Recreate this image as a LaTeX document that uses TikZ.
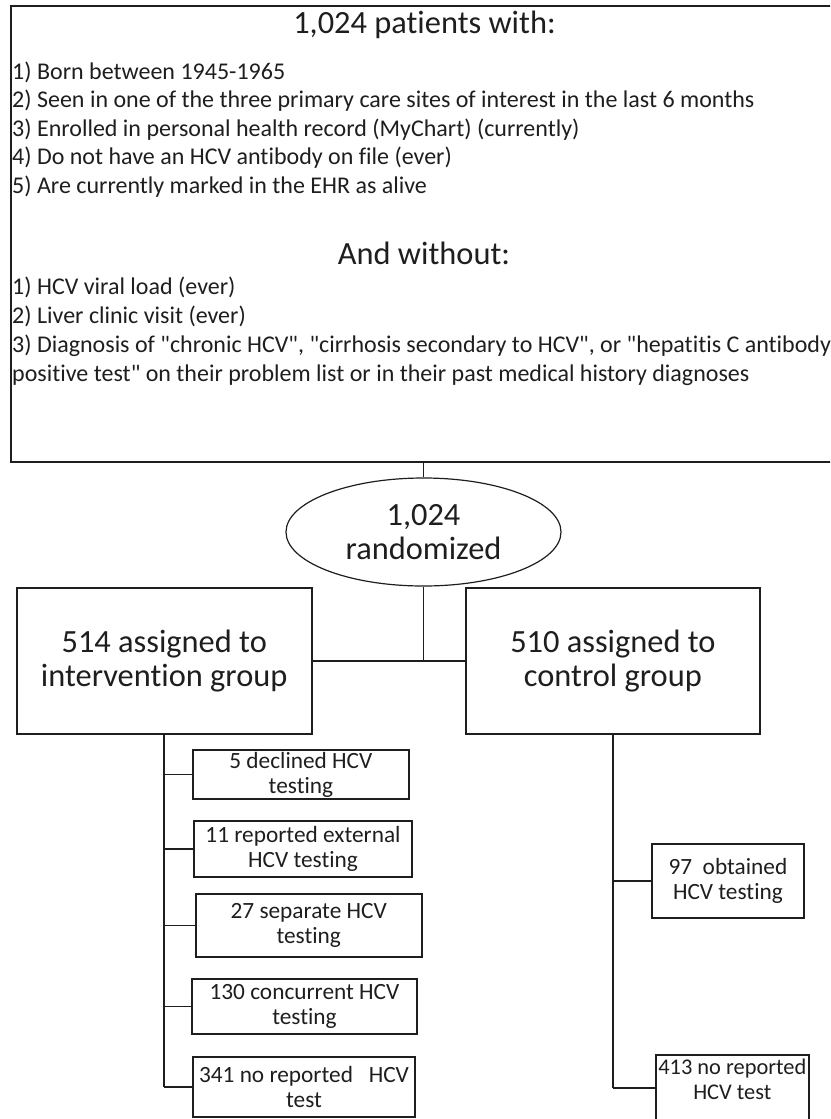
\documentclass[tikz,border=0pt]{standalone}
\usepackage{fontspec}
\setmainfont{Carlito}[Ligatures={TeXOff,CommonOff}]
\usetikzlibrary{shapes.geometric}
\definecolor{ink}{HTML}{1E1E1E}
\tikzset{
  box/.style={draw=ink, line width=1.7pt, rectangle, inner sep=0pt, align=center},
  bigtxt/.style={font=\fontsize{32.4}{34}\selectfont},
  smalltxt/.style={font=\fontsize{23.3}{25}\selectfont},
  listline/.style={anchor=west, inner sep=0pt, font=\fontsize{24}{25}\selectfont, text=ink},
  conn/.style={draw=ink, line width=1.7pt},
}
\begin{document}
\begin{tikzpicture}[x=1pt, y=-1pt]
\useasboundingbox (0,0) rectangle (830,1119);
\clip (0,0) rectangle (830,1119);
% top box
\node[box, anchor=north west, minimum width=832pt, minimum height=456pt] (top) at (10,5) {};
\node[inner sep=0pt, bigtxt, text=ink] (title) at (424.5,25) {1,024 patients with:};
\node[listline] (w1) at (12,72.7) {1) Born between 1945-1965};
\node[listline] (w2) at (12,100.9) {2) Seen in one of the three primary care sites of interest in the last 6 months};
\node[listline] (w3) at (12,129.3) {3) Enrolled in personal health record (MyChart) (currently)};
\node[listline] (w4) at (12,158) {4) Do not have an HCV antibody on file (ever)};
\node[listline] (w5) at (12,186.7) {5) Are currently marked in the EHR as alive};
\node[inner sep=0pt, bigtxt, text=ink] (without) at (424,253) {And without:};
\node[listline] (x1) at (12,287) {1) HCV viral load (ever)};
\node[listline] (x2) at (12,316) {2) Liver clinic visit (ever)};
\node[listline] (x3) at (12,345.7) {3) Diagnosis of "chronic HCV", "cirrhosis secondary to HCV", or "hepatitis C antibody};
\node[listline] (x4) at (12,375.7) {positive test" on their problem list or in their past medical history diagnoses};
% ellipse
\node[ellipse, draw=ink, line width=1.2pt, minimum width=275pt, minimum height=108pt, inner sep=0pt, align=center, text=ink, bigtxt] (rand) at (423.5,532) {1,024\\randomized};
% group boxes
\node[box, bigtxt, text=ink, minimum width=295pt, minimum height=146pt] (L) at (164.2,661) {514 assigned to\\intervention group};
\node[box, bigtxt, text=ink, minimum width=294pt, minimum height=146pt] (R) at (612.9,661) {510 assigned to\\control group};
% intervention sub boxes
\node[box, smalltxt, text=ink, minimum width=216pt, minimum height=49pt] (s1) at (300.9,774.5) {5 declined HCV\\testing};
\node[box, smalltxt, text=ink, minimum width=218pt, minimum height=56pt] (s2) at (303,849) {11 reported external\\HCV testing};
\node[box, smalltxt, text=ink, minimum width=226pt, minimum height=63pt] (s3) at (308.7,925.5) {27 separate HCV\\testing};
\node[box, smalltxt, text=ink, minimum width=225pt, minimum height=55pt] (s4) at (304.5,1006.5) {130 concurrent HCV\\testing};
\node[box, smalltxt, text=ink, minimum width=222pt, minimum height=60pt] (s5) at (304,1087) {341 no reported\ \ \ HCV\\test};
% control sub boxes
\node[box, smalltxt, text=ink, minimum width=152pt, minimum height=74pt] (r1) at (727.9,881) {97\ \ obtained\\HCV testing};
\node[box, smalltxt, text=ink, minimum width=153pt, minimum height=70pt] (r2) at (732.3,1090) {};
\node[inner sep=0pt, font=\fontsize{22.4}{25}\selectfont, text=ink, align=center] (r2t) at (r2.center |- 0,1079.5) {413 no reported\\HCV test};
% connectors
\coordinate (lb) at (164.2,1087);
\coordinate (rb) at (612.9,1088);
\draw[conn] (rand.north |- top.south) -- (rand.north);
\draw[conn] (rand.south) -- (rand.south |- L.east);
\draw[conn] (L.east) -- (R.west);
\draw[conn] (L.south) -- (lb);
\draw[conn] (lb |- s1.west) -- (s1.west);
\draw[conn] (lb |- s2.west) -- (s2.west);
\draw[conn] (lb |- s3.west) -- (s3.west);
\draw[conn] (lb |- s4.west) -- (s4.west);
\draw[conn] (lb) -- (s5.west);
\draw[conn] (R.south) -- (rb);
\draw[conn] (rb |- r1.west) -- (r1.west);
\draw[conn] (rb) -- (rb -| r2.west);
\end{tikzpicture}
\end{document}
